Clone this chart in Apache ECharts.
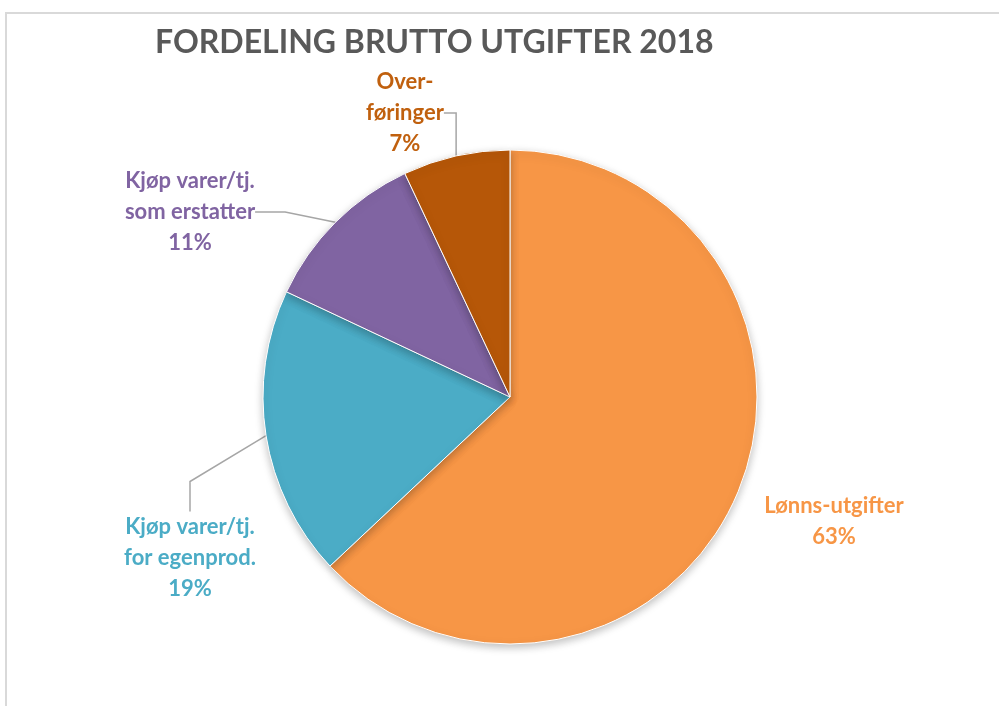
<!DOCTYPE html>
<html>
<head>
<meta charset="utf-8">
<script src="https://cdn.jsdelivr.net/npm/echarts@6/dist/echarts.min.js"></script>
<style>
  html, body { margin: 0; padding: 0; background: #fff; }
  #frame { position: absolute; left: 5px; top: 12px; width: 1100px; height: 800px;
           border-top: 2px solid #d9d9d9; border-left: 2px solid #d9d9d9; }
  #chart { position: absolute; left: 0; top: 0; width: 999px; height: 706px; }
</style>
</head>
<body>
<div id="frame"></div>
<div id="chart"></div>
<script>
var categories = ['Lønns-utgifter', 'Kjøp varer/tj.\nfor egenprod.', 'Kjøp varer/tj.\nsom erstatter', 'Over-\nføringer'];
var values = [63, 19, 11, 7];
var colors = ['#F79646', '#4BACC6', '#8064A2', '#B65708'];
var labelColors = ['#F79646', '#4BACC6', '#8064A2', '#C0600E'];
// where each label sits (centre of text block)
var labelPos = [[834, 521], [190, 558], [190, 212], [405, 113]];

var myChart = echarts.init(document.getElementById('chart'));

var pieData = [];
for (var i = 0; i < categories.length; i++) {
	pieData.push({
		name: categories[i],
		value: values[i],
		itemStyle: { color: colors[i] },
		label: { color: labelColors[i] },
		labelLine: { show: i !== 0 }
	});
}

var option = {
	backgroundColor: 'transparent',
	title: {
		text: 'FORDELING BRUTTO UTGIFTER 2018',
		left: 150,
		top: 22,
		textStyle: {
			color: '#595959',
			fontFamily: 'Lato',
			fontWeight: 'bold',
			fontSize: 32
		}
	},
	series: [{
		type: 'pie',
		center: [510, 397],
		radius: [0, 247],
		startAngle: 90,
		clockwise: true,
		data: pieData,
		itemStyle: {
			borderColor: '#fff',
			borderWidth: 1,
			shadowColor: 'rgba(0,0,0,0.25)',
			shadowBlur: 8,
			shadowOffsetY: 3
		},
		label: {
			show: true,
			formatter: '{b}\n{d}%',
			fontFamily: 'Lato',
			fontWeight: 'bold',
			fontSize: 22,
			lineHeight: 31,
			align: 'center'
		},
		labelLine: {
			show: true,
			lineStyle: { color: '#a6a6a6', width: 1.5 }
		},
		labelLayout: function (params) {
			var p = labelPos[params.dataIndex];
			return { x: p[0], y: p[1], align: 'center', verticalAlign: 'middle' };
		}
	}]
};

myChart.setOption(option);
</script>
</body>
</html>
